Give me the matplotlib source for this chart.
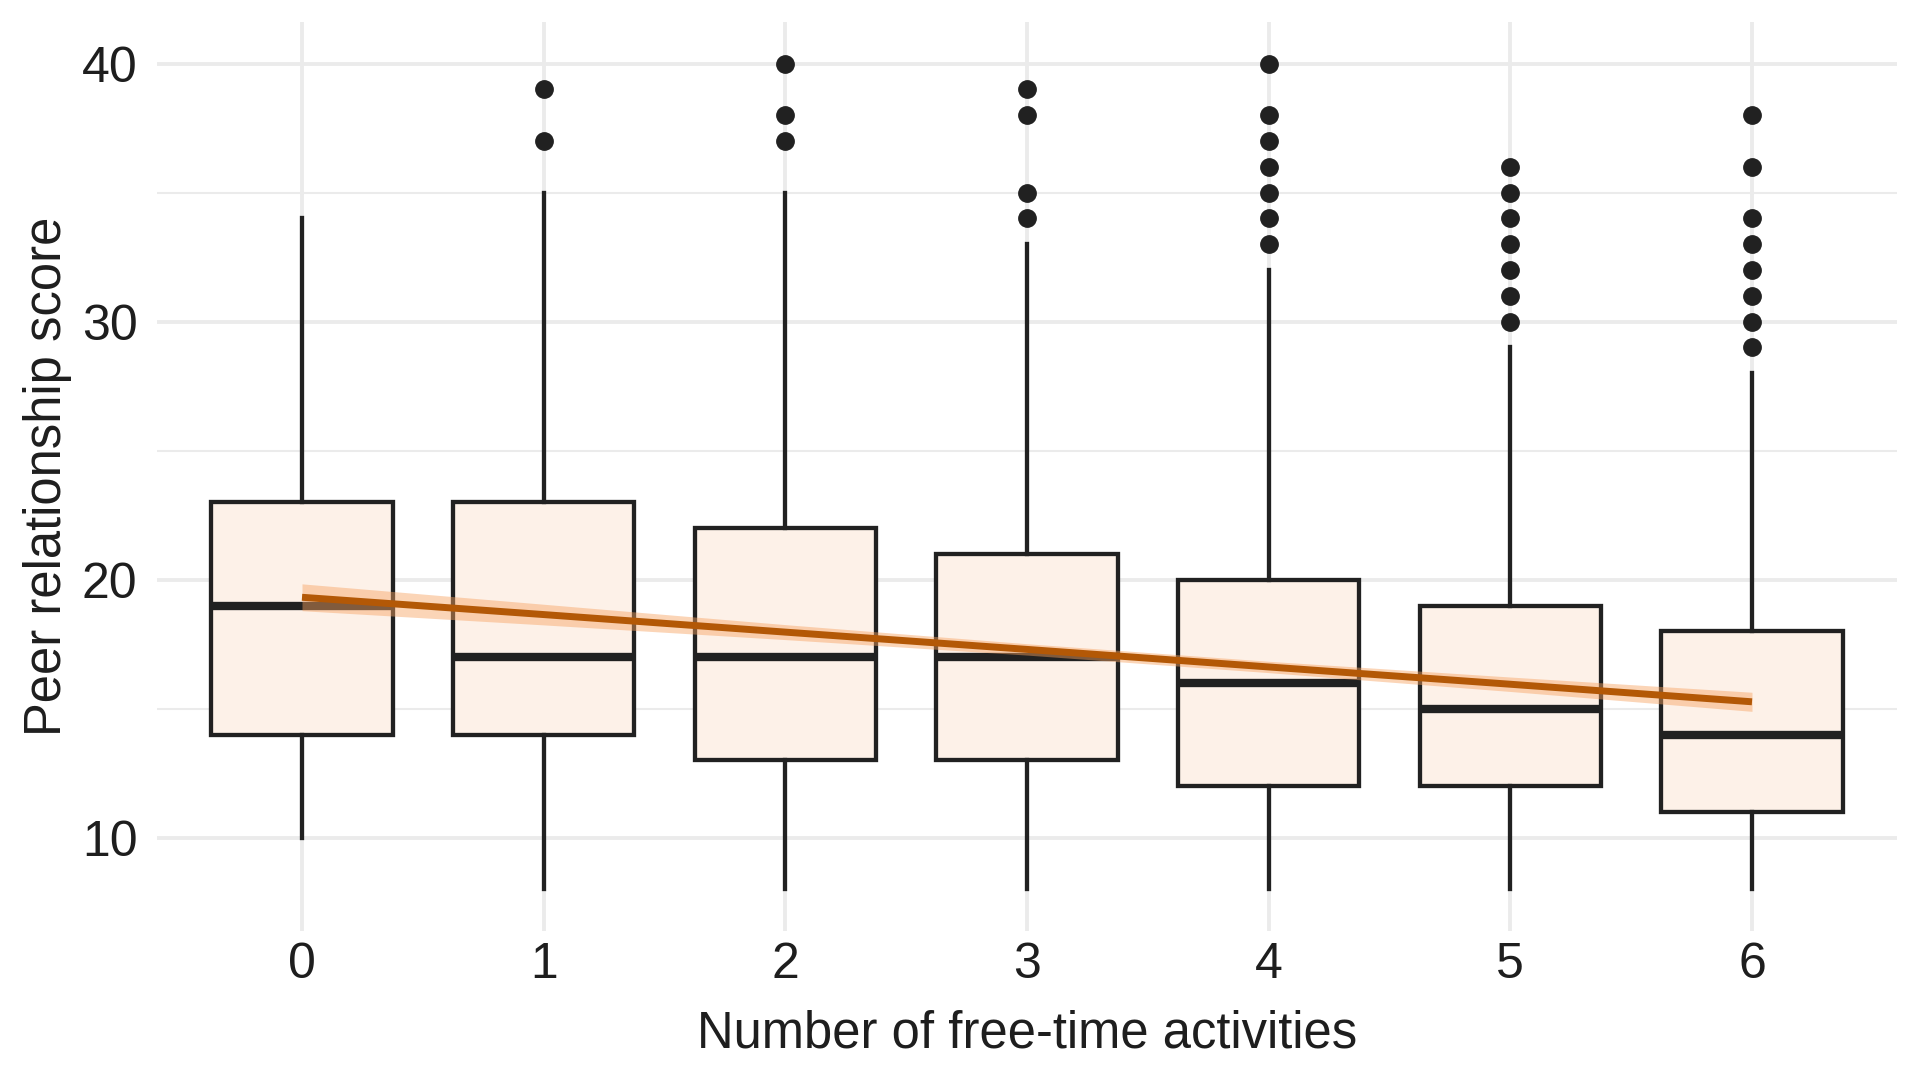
import matplotlib
matplotlib.use("Agg")
import matplotlib.pyplot as plt
import numpy as np

plt.rcParams['font.family'] = ['Liberation Sans', 'DejaVu Sans']

# ---- data ----
activities = [0, 1, 2, 3, 4, 5, 6]
tick_labels = ["0", "1", "2", "3", "4", "5", "6"]
q1 = [14, 14, 13, 13, 12, 12, 11]
median = [19, 17, 17, 17, 16, 15, 14]
q3 = [23, 23, 22, 21, 20, 19, 18]
whisker_low = [10, 8, 8, 8, 8, 8, 8]
whisker_high = [34, 35, 35, 33, 32, 29, 28]
outliers = [
    [],
    [37, 39],
    [37, 38, 40],
    [34, 35, 38, 39],
    [33, 34, 35, 36, 37, 38, 40],
    [30, 31, 32, 33, 34, 35, 36],
    [29, 30, 31, 32, 33, 34, 36, 38],
]
fit_y = [19.32, 18.65, 17.97, 17.30, 16.62, 15.95, 15.27]
fit_lower = [18.80, 18.25, 17.68, 17.08, 16.40, 15.67, 14.90]
fit_upper = [19.84, 19.05, 18.26, 17.52, 16.84, 16.23, 15.64]

y_ticks = [10, 20, 30, 40]
x_title = "Number of free-time activities"
y_title = "Peer relationship score"

# ---- styles ----
BOX_FILL = "#FDF1E8"
DARK = "#212121"
LINE_C = "#B35806"
RIBBON_C = "#F7A261"
GRID_C = "#EBEBEB"

fig = plt.figure(figsize=(19.2, 10.8), dpi=100)
ax = fig.add_axes([157 / 1920, 1 - 930.7 / 1080, (1897 - 157) / 1920, (930.7 - 22.3) / 1080])

stats = []
for i in range(len(activities)):
    stats.append(dict(med=median[i], q1=q1[i], q3=q3[i],
                      whislo=whisker_low[i], whishi=whisker_high[i],
                      fliers=outliers[i]))

ax.bxp(stats, positions=activities, widths=0.75, patch_artist=True,
       showcaps=False,
       boxprops=dict(facecolor=BOX_FILL, edgecolor=DARK, linewidth=3.1),
       medianprops=dict(color=DARK, linewidth=6.0, solid_capstyle='butt'),
       whiskerprops=dict(color=DARK, linewidth=3.1),
       flierprops=dict(marker='o', markerfacecolor=DARK, markeredgecolor=DARK,
                       markersize=12.5, linestyle='none'),
       zorder=2)

ax.fill_between(activities, fit_lower, fit_upper, color=RIBBON_C, alpha=0.45,
                linewidth=0, zorder=3)
ax.plot(activities, fit_y, color=LINE_C, linewidth=5, solid_capstyle='butt', zorder=4)

ax.set_xlim(-0.6, 6.6)
ax.set_ylim(6.4, 41.6)
ax.set_xticks(activities)
ax.set_xticklabels(tick_labels)
ax.set_yticks(y_ticks)
ax.set_yticks([15, 25, 35], minor=True)

ax.grid(True, which='major', color=GRID_C, linewidth=2.8, zorder=0)
ax.grid(True, which='minor', axis='y', color=GRID_C, linewidth=1.5, zorder=0)
ax.set_axisbelow(True)
for s in ax.spines.values():
    s.set_visible(False)
ax.tick_params(axis='both', which='both', length=0, labelsize=36, colors="#1E1E1E")
ax.tick_params(axis='x', pad=8)
ax.tick_params(axis='y', pad=14)

fig.text(1027 / 1920, 1 - 1047 / 1080, x_title, ha='center', va='baseline',
         fontsize=36.5, color="#1E1E1E")
fig.text(61 / 1920, 1 - 476.5 / 1080, y_title, ha='center', va='baseline',
         rotation=90, rotation_mode='anchor', fontsize=36.5, color="#1E1E1E")

fig.savefig("out.png", dpi=100, facecolor='white')
